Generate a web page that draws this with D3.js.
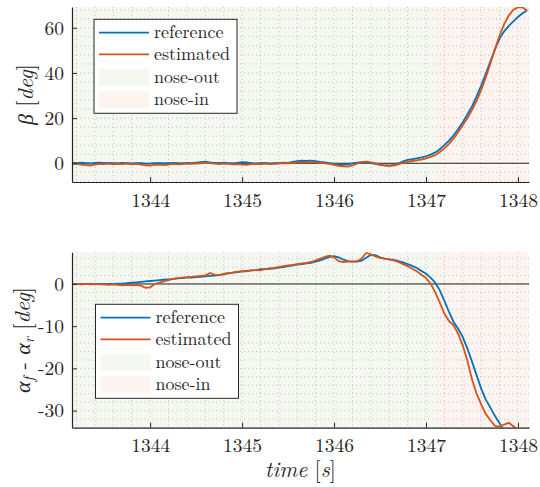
<!DOCTYPE html>
<html>
<head>
<meta charset="utf-8">
<script src="https://d3js.org/d3.v7.min.js"></script>
<style>
  body { margin: 0; background: #fff; }
  svg { display: block; }
</style>
</head>
<body>
<script>
// sample times: 1343.15 s, every 0.05 s
const t0 = 1343.15;
const dt = 0.05;
const xTicks = [1344, 1345, 1346, 1347, 1348];
const phaseSwitch = 1347.105;   // nose-out -> nose-in

const betaRef = [
  0.2, 0.0, 0.3, 0.1, -0.2, 0.2, 0.3, 0.0, 0.2, 0.1,
  -0.1, 0.2, 0.0, -0.2, 0.1, 0.0, -0.3, -0.2, 0.1, 0.0,
  -0.1, 0.1, 0.2, 0.0, -0.1, 0.2, 0.1, 0.3, 0.5, 0.7,
  0.4, 0.2, 0.0, 0.3, 0.1, -0.1, 0.2, 0.5, 0.4, 0.1,
  -0.2, 0.0, 0.2, -0.2, 0.0, 0.1, 0.3, 0.2, 0.6, 0.9,
  1.1, 1.0, 1.2, 0.9, 0.6, 0.4, 0.0, -0.3, -0.6, -0.7,
  -0.5, -0.1, 0.3, 0.5, 0.4, 0.1, -0.3, -0.7, -0.9, -1.0,
  -0.7, -0.1, 0.8, 1.5, 1.8, 2.2, 2.6, 3.1, 3.8, 4.8,
  6.2, 8.0, 10.0, 12.4, 15.2, 18.2, 21.6, 25.2, 29.6, 34.4,
  39.6, 45.0, 50.4, 55.2, 58.4, 60.8, 62.8, 64.8, 66.4, 67.8
];
const betaEst = [
  -0.2, -0.3, -0.6, -0.8, -1.0, -0.6, -0.3, -0.4, -0.2, -0.5,
  -0.3, -0.4, -0.2, -0.5, -0.3, -0.6, -0.9, -1.0, -0.6, -0.7,
  -0.8, -0.6, -0.3, -0.5, -0.4, -0.2, -0.3, -0.1, 0.0, 0.2,
  0.1, -0.2, -0.4, -0.2, -0.3, -0.5, -0.4, -0.6, -0.7, -0.4,
  -0.3, -0.5, -0.2, -0.4, -0.3, -0.1, 0.1, 0.0, 0.2, 0.4,
  0.5, 0.4, 0.6, 0.4, 0.2, 0.0, -0.3, -0.7, -1.1, -1.4,
  -1.5, -0.9, -0.2, 0.5, 0.7, 0.4, -0.1, -0.6, -1.0, -1.2,
  -1.0, -0.5, 0.2, 0.6, 1.0, 1.3, 1.6, 2.2, 2.8, 3.6,
  5.0, 6.6, 8.6, 11.0, 13.8, 16.8, 20.0, 23.6, 27.6, 32.4,
  38.0, 44.2, 50.6, 56.6, 61.6, 65.4, 68.0, 69.0, 69.0, 67.6
];

const slipRef = [
  0.0, 0.0, -0.1, 0.0, 0.0, -0.1, 0.0, -0.1, 0.0, 0.0,
  0.1, 0.1, 0.2, 0.3, 0.4, 0.5, 0.6, 0.7, 0.8, 0.9,
  1.0, 1.1, 1.2, 1.3, 1.4, 1.5, 1.5, 1.6, 1.7, 1.8,
  1.9, 2.0, 2.1, 2.3, 2.5, 2.7, 2.8, 3.0, 3.1, 3.2,
  3.3, 3.5, 3.5, 3.6, 3.7, 3.9, 4.0, 4.2, 4.4, 4.6,
  4.7, 4.9, 5.0, 5.3, 5.6, 6.0, 6.4, 6.6, 6.3, 5.8,
  5.4, 5.3, 5.3, 5.5, 6.2, 6.9, 6.8, 6.3, 6.0, 5.8,
  5.7, 5.4, 5.1, 4.7, 4.3, 3.8, 3.1, 2.4, 1.5, 0.3,
  -1.5, -4.0, -6.6, -9.0, -10.6, -12.6, -15.3, -18.4, -21.6, -24.8,
  -27.4, -29.3, -31.3, -33.0, -34.8, -36.5
];
const slipEst = [
  0.0, 0.0, -0.1, 0.0, -0.1, 0.0, -0.1, -0.1, -0.2, -0.1,
  -0.2, -0.3, -0.2, -0.3, -0.2, -0.4, -0.9, -0.8, 0.0, 0.3,
  0.6, 0.9, 1.2, 1.4, 1.5, 1.6, 1.7, 1.8, 1.9, 2.0,
  2.6, 2.2, 2.1, 2.4, 2.6, 2.7, 2.9, 3.0, 3.0, 3.2,
  3.3, 3.2, 3.5, 3.7, 3.8, 4.0, 4.2, 4.4, 4.5, 4.7,
  4.9, 5.0, 5.2, 5.6, 6.0, 6.4, 6.7, 6.3, 5.4, 5.2,
  5.3, 5.3, 5.4, 6.0, 7.4, 7.0, 6.5, 6.2, 6.0, 5.8,
  5.6, 5.2, 4.7, 4.2, 3.6, 3.0, 2.2, 1.4, 0.1, -2.0,
  -4.4, -7.0, -8.8, -9.8, -11.8, -14.6, -18.2, -22.6, -26.0, -28.5,
  -30.8, -32.3, -33.6, -33.8, -33.3, -32.9, -33.7, -34.5, -35.5
];

const legendLabels = ["reference", "estimated", "nose-out", "nose-in"];
const blue = "#0072BD";
const orange = "#D95319";
const noseOutFill = "#f5f7f1";
const noseInFill = "#fdf3ef";
const serif = "'Latin Modern Roman', 'Liberation Serif', serif";
const ink = "#262626";

const W = 540, H = 487;
const svg = d3.select("body").append("svg").attr("width", W).attr("height", H);

function drawPanel(cfg) {
    const x = d3.scaleLinear().domain([1343.15, 1348.12]).range([72, 529]);
    const y = d3.scaleLinear().domain(cfg.yDomain).range([cfg.bottom, cfg.top]);
    const g = svg.append("g");
    const id = "clip" + cfg.name;

    g.append("clipPath").attr("id", id).append("rect")
        .attr("x", x.range()[0]).attr("y", cfg.top)
        .attr("width", x.range()[1] - x.range()[0]).attr("height", cfg.bottom - cfg.top);

    // phase backgrounds
    g.append("rect")
        .attr("x", x(x.domain()[0])).attr("y", cfg.top)
        .attr("width", x(phaseSwitch) - x(x.domain()[0])).attr("height", cfg.bottom - cfg.top)
        .attr("fill", noseOutFill);
    g.append("rect")
        .attr("x", x(phaseSwitch)).attr("y", cfg.top)
        .attr("width", x(x.domain()[1]) - x(phaseSwitch)).attr("height", cfg.bottom - cfg.top)
        .attr("fill", noseInFill);

    // dotted grid (major + minor)
    const vGrid = x.ticks(25);
    const hGrid = d3.range(Math.ceil(cfg.yDomain[0] / cfg.minor) * cfg.minor, cfg.yDomain[1], cfg.minor);
    g.append("g").selectAll("line").data(vGrid).join("line")
        .attr("x1", d => x(d)).attr("x2", d => x(d))
        .attr("y1", cfg.top).attr("y2", cfg.bottom)
        .attr("stroke", "#b4b4b4").attr("stroke-width", 0.8).attr("stroke-dasharray", "1,3");
    g.append("g").selectAll("line").data(hGrid).join("line")
        .attr("x1", x.range()[0]).attr("x2", x.range()[1])
        .attr("y1", d => y(d)).attr("y2", d => y(d))
        .attr("stroke", "#b4b4b4").attr("stroke-width", 0.8).attr("stroke-dasharray", "1,3");

    // zero line
    g.append("line")
        .attr("x1", x.range()[0]).attr("x2", x.range()[1])
        .attr("y1", y(0)).attr("y2", y(0))
        .attr("stroke", "#222").attr("stroke-width", 1);

    const line = d3.line()
        .x((d, i) => x(t0 + i * dt))
        .y(d => y(d));
    const lines = g.append("g").attr("clip-path", "url(#" + id + ")");
    lines.append("path").datum(cfg.ref).attr("d", line)
        .attr("fill", "none").attr("stroke", blue).attr("stroke-width", 1.8);
    lines.append("path").datum(cfg.est).attr("d", line)
        .attr("fill", "none").attr("stroke", orange).attr("stroke-width", 1.8);

    // axes
    const xAxis = g.append("g").attr("transform", "translate(0," + cfg.bottom + ")")
        .call(d3.axisBottom(x).tickValues(xTicks).tickFormat(d3.format("d"))
            .tickSize(-5).tickSizeOuter(0).tickPadding(11));
    const yAxis = g.append("g").attr("transform", "translate(72,0)")
        .call(d3.axisLeft(y).tickValues(cfg.yTicks).tickFormat(d => d < 0 ? "-" + Math.abs(d) : d)
            .tickSize(-5).tickSizeOuter(0).tickPadding(8));
    [xAxis, yAxis].forEach(a => {
        a.select(".domain").attr("stroke", ink).attr("stroke-width", 1.2);
        a.selectAll(".tick line").attr("stroke", ink);
        a.selectAll("text").attr("fill", ink)
            .style("font-family", serif).style("font-size", "19.5px");
    });
    xAxis.selectAll("text").attr("dy", "0.7em");

    // y label
    const yl = g.append("text")
        .attr("transform", "translate(" + cfg.yLabelX + "," + ((cfg.top + cfg.bottom) / 2) + ") rotate(-90)")
        .attr("text-anchor", "middle").attr("fill", ink)
        .style("font-family", serif).style("font-size", "22px");
    cfg.yLabel(yl);

    // legend
    const lg = g.append("g").attr("transform", "translate(" + cfg.legend[0] + "," + cfg.legend[1] + ")");
    lg.append("rect").attr("width", 143).attr("height", 94)
        .attr("fill", "#fff").attr("stroke", ink).attr("stroke-width", 1);
    const rows = [13.4, 35, 58, 80.5];
    legendLabels.forEach((lab, i) => {
        if (i < 2) {
            lg.append("line").attr("x1", 5).attr("x2", 55)
                .attr("y1", rows[i]).attr("y2", rows[i])
                .attr("stroke", i === 0 ? blue : orange).attr("stroke-width", 1.8);
        } else {
            lg.append("rect").attr("x", 5).attr("width", 50)
                .attr("y", rows[i] - 8.5).attr("height", 17)
                .attr("fill", i === 2 ? noseOutFill : noseInFill);
        }
        lg.append("text").attr("x", 60).attr("y", rows[i]).attr("dy", "0.3em")
            .attr("fill", ink)
            .style("font-family", serif).style("font-size", "18px").text(lab);
    });
}

drawPanel({
    name: "beta", top: 7, bottom: 182, yDomain: [-8.3, 69.2], yTicks: [0, 20, 40, 60], minor: 4,
    ref: betaRef, est: betaEst, legend: [94, 19.3], yLabelX: 33,
    yLabel: t => {
        t.append("tspan").style("font-style", "italic").text("β");
        t.append("tspan").text(" [");
        t.append("tspan").style("font-style", "italic").text("deg");
        t.append("tspan").text("]");
    }
});

drawPanel({
    name: "slip", top: 252.3, bottom: 427.7, yDomain: [-34.05, 7.5], yTicks: [-30, -20, -10, 0], minor: 2,
    ref: slipRef, est: slipEst, legend: [95.5, 304.3], yLabelX: 30,
    yLabel: t => {
        t.append("tspan").style("font-style", "italic").text("α");
        t.append("tspan").style("font-style", "italic").style("font-size", "15px").attr("dy", 4).text("f");
        t.append("tspan").attr("dy", -4).text(" - ");
        t.append("tspan").style("font-style", "italic").text("α");
        t.append("tspan").style("font-style", "italic").style("font-size", "15px").attr("dy", 4).text("r");
        t.append("tspan").attr("dy", -4).text(" [");
        t.append("tspan").style("font-style", "italic").text("deg");
        t.append("tspan").text("]");
    }
});

// x label
const xl = svg.append("text").attr("x", 300.5).attr("y", 477)
    .attr("text-anchor", "middle").attr("fill", ink)
    .style("font-family", serif).style("font-size", "22px");
xl.append("tspan").style("font-style", "italic").text("time");
xl.append("tspan").text(" [");
xl.append("tspan").style("font-style", "italic").text("s");
xl.append("tspan").text("]");
</script>
</body>
</html>
